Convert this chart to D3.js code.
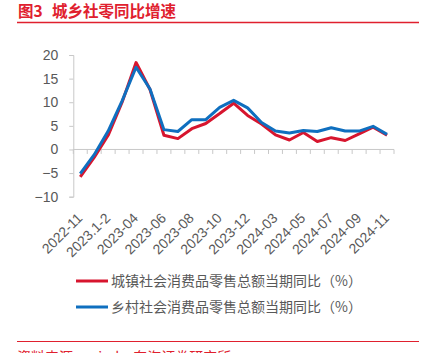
<!DOCTYPE html>
<html lang="zh">
<head>
  <meta charset="UTF-8" />
  <title>城乡社零同比增速</title>
  <script src="https://d3js.org/d3.v7.min.js"></script>
  <style>
    body { margin: 0; background: #fff; }
    svg { display: block; }
    .tick-label { font-family: "Liberation Sans", Arial, sans-serif; font-size: 14px; fill: #595959; }
    .legend-label { font-family: "Noto Sans CJK SC", sans-serif; font-size: 14px; fill: #595959; }
    .title { font-family: "Noto Sans CJK SC", sans-serif; font-size: 15.5px; font-weight: bold; }
    .series { fill: none; stroke-width: 3; stroke-linejoin: round; }
  </style>
</head>
<body>
<svg width="427" height="353"></svg>
<script>
  const categories = ["2022-11", "2022-12", "2023.1-2", "2023-03", "2023-04", "2023-05", "2023-06",
    "2023-07", "2023-08", "2023-09", "2023-10", "2023-11", "2023-12", "2024.1-2", "2024-03",
    "2024-04", "2024-05", "2024-06", "2024-07", "2024-08", "2024-09", "2024-10", "2024-11"];
  const urban = [-5.8, -1.7, 3.0, 10.0, 18.4, 12.7, 3.0, 2.3, 4.4, 5.5, 7.6, 9.8, 7.2, 5.4,
    3.1, 2.0, 3.6, 1.7, 2.5, 1.9, 3.3, 4.7, 3.0];
  const rural = [-5.1, -1.1, 3.9, 10.3, 17.4, 12.8, 4.2, 3.8, 6.3, 6.3, 8.9, 10.4, 8.8, 5.7,
    3.9, 3.5, 4.0, 3.8, 4.6, 3.9, 3.9, 4.9, 3.2];
  const yTicks = [-10, -5, 0, 5, 10, 15, 20];
  const seriesNames = ["城镇社会消费品零售总额当期同比（%）", "乡村社会消费品零售总额当期同比（%）"];
  const colors = ["#d7152e", "#0f6fbf"];

  const svg = d3.select("svg");
  const red = "#e0202e";

  // header
  svg.append("text").attr("class", "title").attr("x", 18).attr("y", 17)
    .attr("fill", red).text("图3");
  svg.append("text").attr("class", "title").attr("x", 52).attr("y", 17)
    .attr("fill", red).text("城乡社零同比增速");
  svg.append("line").attr("x1", 17).attr("x2", 419).attr("y1", 22.5).attr("y2", 22.5)
    .attr("stroke", red).attr("stroke-width", 1.5);

  const x = d3.scaleBand().domain(categories).range([73.3, 394]);
  const y = d3.scaleLinear().domain([-10, 20]).range([196.7, 55]);
  const cx = d => x(d) + x.bandwidth() / 2;

  // y axis
  const yAxis = svg.append("g").attr("transform", "translate(73.3,0)")
    .call(d3.axisLeft(y).tickValues(yTicks).tickSize(4).tickPadding(11));
  yAxis.select(".domain").attr("stroke", "#c8c8c8");
  yAxis.selectAll(".tick line").attr("stroke", "#c8c8c8");
  yAxis.selectAll(".tick text").attr("class", "tick-label").attr("font-size", null).attr("font-family", null).attr("fill", null);

  // x axis line at zero with boundary ticks
  svg.append("line").attr("x1", 73.3).attr("x2", 394).attr("y1", y(0)).attr("y2", y(0))
    .attr("stroke", "#c8c8c8");
  const bounds = categories.map(c => x(c)).concat([x.range()[1]]);
  svg.selectAll(".xtick").data(bounds).join("line")
    .attr("x1", d => d).attr("x2", d => d)
    .attr("y1", y(0)).attr("y2", y(0) + 4.5)
    .attr("stroke", "#c8c8c8");

  // rotated labels every other category
  svg.selectAll(".xlab").data(categories.filter((c, i) => i % 2 === 0)).join("text")
    .attr("class", "tick-label")
    .attr("text-anchor", "end")
    .attr("transform", d => `translate(${cx(d) + 3},${219}) rotate(-45)`)
    .text(d => d);

  // lines
  const line = d3.line().x((d, i) => cx(categories[i])).y(d => y(d));
  [urban, rural].forEach((vals, k) => {
    svg.append("path").datum(vals).attr("class", "series")
      .attr("stroke", colors[k]).attr("d", line);
  });

  // legend
  seriesNames.forEach((name, k) => {
    const ly = 281 + k * 26;
    svg.append("line").attr("x1", 76).attr("x2", 108).attr("y1", ly).attr("y2", ly)
      .attr("stroke", colors[k]).attr("stroke-width", 3);
    svg.append("text").attr("class", "legend-label").attr("x", 111).attr("y", ly + 5)
      .text(name);
  });

  // footer (cut off at the bottom edge, as in the source)
  svg.append("line").attr("x1", 17).attr("x2", 419).attr("y1", 341.5).attr("y2", 341.5)
    .attr("stroke", red).attr("stroke-width", 1.2);
  svg.append("text").attr("x", 17).attr("y", 362)
    .attr("font-family", "Noto Sans CJK SC, sans-serif").attr("font-size", 14)
    .attr("fill", red).text("资料来源：wind，东海证券研究所");
</script>
</body>
</html>
